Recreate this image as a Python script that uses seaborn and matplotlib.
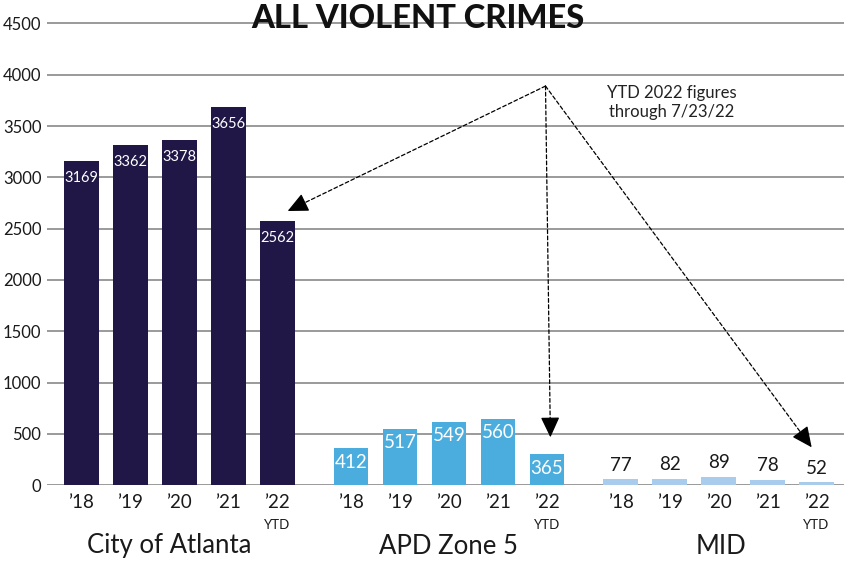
import matplotlib
matplotlib.use("Agg")
import matplotlib.pyplot as plt
import matplotlib.transforms as mtransforms
import seaborn as sns
import pandas as pd

# ---- data ----
groups = ["City of Atlanta", "APD Zone 5", "MID"]
years = ["\u201918", "\u201919", "\u201920", "\u201921", "\u201922"]
atlanta_bar = [3155, 3317, 3362, 3687, 2574]
atlanta_label = [3169, 3362, 3378, 3656, 2562]
zone5_bar = [363, 551, 619, 648, 301]
zone5_label = [412, 517, 549, 560, 365]
mid_bar = [58, 64, 84, 52, 32]
mid_label = [77, 82, 89, 78, 52]
yticks = [0, 500, 1000, 1500, 2000, 2500, 3000, 3500, 4000, 4500]
colors = {"City of Atlanta": "#201747", "APD Zone 5": "#4badde", "MID": "#a9cbec"}
title = "ALL VIOLENT CRIMES"
note = "YTD 2022 figures\nthrough 7/23/22"

sns.set_style("white")
plt.rcParams["font.family"] = ["Lato", "DejaVu Sans"]

bars = [atlanta_bar, zone5_bar, mid_bar]
labels = [atlanta_label, zone5_label, mid_label]
rows = []
for g, name in enumerate(groups):
    for i in range(len(years)):
        rows.append({"x": i + g * 5.5, "value": bars[g][i], "label": labels[g][i],
                     "group": name, "year": years[i]})
df = pd.DataFrame(rows)

fig = plt.figure(figsize=(8.45, 5.61), dpi=100)
ax = fig.add_axes([47 / 845, 0.1349, 1 - 47 / 845, 0.995 - 0.1349])

sns.barplot(data=df, x="x", y="value", hue="group", hue_order=groups, palette=colors,
            native_scale=True, width=0.708, dodge=False, legend=False, saturation=1,
            linewidth=0, ax=ax)

ax.set_xlim(-0.70, 15.58)
ax.set_ylim(0, 4700)
ax.set_yticks(yticks)
ax.set_yticklabels([str(v) for v in yticks], fontsize=12, color="#1a1a1a")
ax.set_xticks(df["x"])
ax.set_xticklabels(df["year"], fontsize=13.5, color="#1a1a1a")
ax.tick_params(axis="y", length=0, pad=4)
ax.tick_params(axis="x", length=0, pad=6)
ax.set_xlabel("")
ax.set_ylabel("")
for s in ax.spines.values():
    s.set_visible(False)
ax.yaxis.grid(True, color="#9a9a9a", linewidth=1.4)
ax.xaxis.grid(False)
ax.set_axisbelow(True)

# value labels
for _, r in df.iterrows():
    if r["group"] == "City of Atlanta":
        ax.annotate(str(r["label"]), (r["x"], r["value"]), xytext=(0, -17),
                    textcoords="offset pixels", ha="center", va="center",
                    color="white", fontsize=10.5)
    elif r["group"] == "APD Zone 5":
        ax.annotate(str(r["label"]), (r["x"], r["value"]), xytext=(0, -14),
                    textcoords="offset pixels", ha="center", va="center",
                    color="white", fontsize=13.5)
    else:
        ax.annotate(str(r["label"]), (r["x"], r["value"]), xytext=(0, 14),
                    textcoords="offset pixels", ha="center", va="center",
                    color="#1a1a1a", fontsize=13.5)

trans = mtransforms.blended_transform_factory(ax.transData, fig.transFigure)
for g in range(len(groups)):
    xl = 4 + g * 5.5
    t = fig.text(0, 1 - 525 / 561, "YTD", transform=trans, fontsize=9.5, ha="center",
                 va="center", color="#1a1a1a")
    t.set_x(xl)
group_centers = [1.8, 7.5, 13.05]
for name, xc in zip(groups, group_centers):
    t = fig.text(0, 1 - 546 / 561, name, transform=trans, fontsize=18.5, ha="center",
                 va="center", color="#1a1a1a")
    t.set_x(xc)

fig.text(418 / 845, 1 - 18 / 561, title, fontsize=23.5, fontweight="black",
         ha="center", va="center", color="#111111", zorder=5)

ax.text(12.04, 3728, note, fontsize=12, ha="center", va="center", color="#222222",
        linespacing=1.25)

origin = (9.47, 3889)
tips = [(4.21, 2672), (9.57, 468), (14.90, 370)]
for tip in tips:
    # dashed shaft
    ax.annotate("", xy=tip, xytext=origin,
                arrowprops=dict(arrowstyle="-", linestyle=(0, (3, 2)), color="black",
                                lw=0.9, shrinkA=0, shrinkB=6))
    # solid head
    near = (tip[0] + (origin[0] - tip[0]) * 0.02, tip[1] + (origin[1] - tip[1]) * 0.02)
    ax.annotate("", xy=tip, xytext=near,
                arrowprops=dict(arrowstyle="-|>,head_length=0.9,head_width=0.42",
                                color="black", lw=0.9, mutation_scale=14,
                                shrinkA=0, shrinkB=0))

fig.savefig("out.png", dpi=100, facecolor="white")
